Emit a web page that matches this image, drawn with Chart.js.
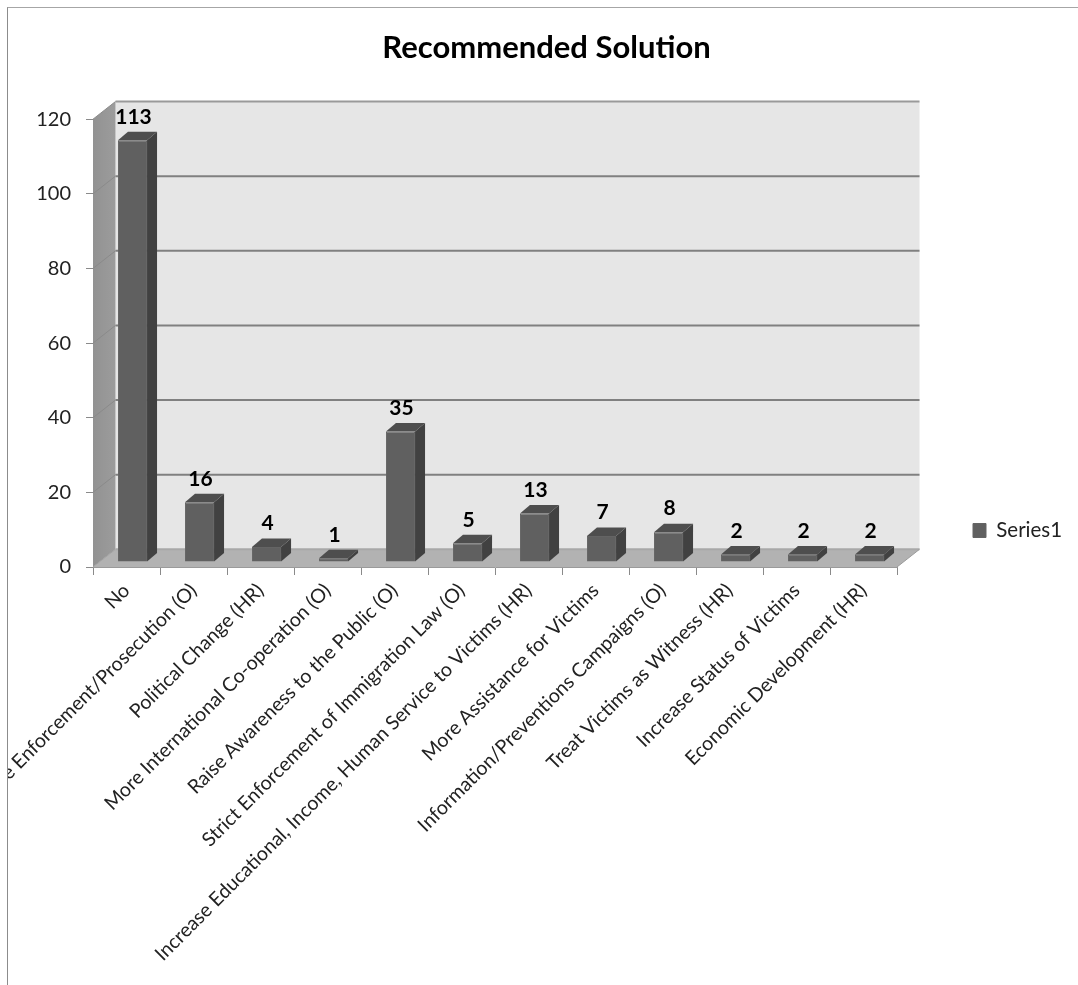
<!DOCTYPE html>
<html>
<head>
<meta charset="utf-8">
<style>
  html, body { margin: 0; padding: 0; background: #fff; overflow: hidden; }
  #frame { position: absolute; left: 7px; top: 7px; width: 1071px; height: 978px;
           border-left: 1px solid #8c8c8c; border-top: 1px solid #a6a6a6; }
  canvas { display: block; }
</style>
<script src="https://cdn.jsdelivr.net/npm/chart.js@4"></script>
</head>
<body>
<div id="frame"><canvas id="chart" width="1070" height="977"></canvas></div>
<script>
const categories = [
  "No",
  "More Enforcement/Prosecution (O)",
  "Political Change (HR)",
  "More International Co-operation (O)",
  "Raise Awareness to the Public (O)",
  "Strict Enforcement of Immigration Law (O)",
  "Increase Educational, Income, Human Service to Victims (HR)",
  "More Assistance for Victims",
  "Information/Preventions Campaigns (O)",
  "Treat Victims as Witness (HR)",
  "Increase Status of Victims",
  "Economic Development (HR)"
];
const series1 = [113, 16, 4, 1, 35, 5, 13, 7, 8, 2, 2, 2];
const yTicks = [0, 20, 40, 60, 80, 100, 120];

const FONT = "Lato, Carlito, sans-serif";
// Depth of the box behind the axes, and of each column.
const WALL_DX = 22.5, WALL_DY = 17.7;
const BAR_DX = 10, BAR_DY = 8.5;
const BAR_SHIFT_X = 6, BAR_SHIFT_Y = -5;

function poly(ctx, pts, fill) {
  ctx.beginPath();
  pts.forEach((p, i) => i ? ctx.lineTo(p[0], p[1]) : ctx.moveTo(p[0], p[1]));
  ctx.closePath();
  ctx.fillStyle = fill;
  ctx.fill();
}

const extrudedChart = {
  id: "extrudedChart",
  beforeLayout(chart) {
    // Reserve a fixed column for the legend on the right.
    const legend = chart.legend;
    if (legend && !legend._fixedFit) {
      const fit = legend.fit.bind(legend);
      legend.fit = function () { fit(); this.width = 181; };
      legend._fixedFit = true;
    }
  },
  afterLayout(chart) {
    chart.titleBlock.left = 7;
    const legend = chart.legend;
    legend.left = 955;
    legend.right = 1070;
    legend.top = 505;
    legend.bottom = 540;
  },
  beforeDatasetsDraw(chart) {
    const { ctx, scales: { x, y }, chartArea: a } = chart;
    const y0 = y.getPixelForValue(0), yMax = y.getPixelForValue(120);
    ctx.save();
    // Back wall, side wall, floor
    poly(ctx, [[a.left + WALL_DX, yMax - WALL_DY], [a.right + WALL_DX, yMax - WALL_DY],
               [a.right + WALL_DX, y0 - WALL_DY], [a.left + WALL_DX, y0 - WALL_DY]], "#e6e6e6");
    const wall = ctx.createLinearGradient(a.left, 0, a.left + WALL_DX, 0);
    wall.addColorStop(0, "#929292");
    wall.addColorStop(1, "#9c9c9c");
    poly(ctx, [[a.left, yMax], [a.left + WALL_DX, yMax - WALL_DY],
               [a.left + WALL_DX, y0 - WALL_DY], [a.left, y0]], wall);
    poly(ctx, [[a.left, y0], [a.left + WALL_DX, y0 - WALL_DY],
               [a.right + WALL_DX, y0 - WALL_DY], [a.right, y0]], "#b2b2b2");
    // Gridlines wrap from the side wall across the back wall
    yTicks.forEach(v => {
      const py = y.getPixelForValue(v);
      ctx.beginPath();
      ctx.moveTo(a.left, py);
      ctx.lineTo(a.left + WALL_DX, py - WALL_DY);
      ctx.strokeStyle = v === 0 ? "#a0a0a0" : "#8a8a8a";
      ctx.lineWidth = 1;
      ctx.stroke();
      ctx.beginPath();
      ctx.moveTo(a.left + WALL_DX, py - WALL_DY);
      ctx.lineTo(a.right + WALL_DX, py - WALL_DY);
      ctx.strokeStyle = v === 0 ? "#a8a8a8" : (v === 120 ? "#9a9a9a" : "#808080");
      ctx.lineWidth = 2;
      ctx.stroke();
    });
    ctx.beginPath();
    ctx.moveTo(a.right, y0);
    ctx.lineTo(a.right + WALL_DX, y0 - WALL_DY);
    ctx.strokeStyle = "#9a9a9a";
    ctx.lineWidth = 1;
    ctx.stroke();
    ctx.restore();
  },
  beforeDatasetDraw(chart) {
    const ctx = chart.ctx;
    chart.getDatasetMeta(0).data.forEach(bar => {
      const { x, y, base, width } = bar.getProps(["x", "y", "base", "width"], true);
      const l = x - width / 2 + BAR_SHIFT_X, r = x + width / 2 + BAR_SHIFT_X;
      const t = y + BAR_SHIFT_Y, b = base + BAR_SHIFT_Y;
      poly(ctx, [[r, t], [r + BAR_DX, t - BAR_DY], [r + BAR_DX, b - BAR_DY], [r, b]], "#414141");
      poly(ctx, [[l, t], [l + BAR_DX, t - BAR_DY], [r + BAR_DX, t - BAR_DY], [r, t]], "#4e4e4e");
    });
    ctx.save();
    ctx.translate(BAR_SHIFT_X, BAR_SHIFT_Y);
  },
  afterDatasetDraw(chart) {
    const ctx = chart.ctx;
    ctx.restore();
    ctx.save();
    ctx.font = "bold 21px " + FONT;
    ctx.fillStyle = "#000";
    ctx.textAlign = "center";
    ctx.textBaseline = "middle";
    chart.getDatasetMeta(0).data.forEach((bar, i) => {
      const { x, y } = bar.getProps(["x", "y"], true);
      ctx.fillText(String(series1[i]), x + BAR_SHIFT_X + 1, y + BAR_SHIFT_Y - BAR_DY - 15);
    });
    ctx.restore();
  }
};

new Chart(document.getElementById("chart"), {
  type: "bar",
  data: {
    labels: categories,
    datasets: [{
      label: "Series1",
      data: series1,
      backgroundColor: "#606060",
      borderColor: "#646464",
      borderWidth: 1,
      barPercentage: 0.434,
      categoryPercentage: 1,
      clip: false
    }]
  },
  plugins: [extrudedChart],
  options: {
    responsive: false,
    animation: false,
    layout: { autoPadding: false, padding: 0 },
    plugins: {
      title: {
        display: true,
        text: "Recommended Solution",
        color: "#000",
        font: { family: FONT, size: 31, weight: "bold", lineHeight: 1.2 },
        padding: { top: 21, bottom: 53 }
      },
      legend: {
        display: true,
        position: "right",
        align: "center",
        labels: {
          boxWidth: 13, boxHeight: 14, padding: 10,
          color: "#222",
          font: { family: FONT, size: 20.5 }
        }
      },
      tooltip: { enabled: false }
    },
    scales: {
      x: {
        afterFit(scale) { scale.height = 418; },
        grid: { drawOnChartArea: false, drawTicks: true, tickLength: 8, color: "#8a8a8a" },
        border: { color: "#9a9a9a" },
        ticks: {
          autoSkip: false, minRotation: 45, maxRotation: 45, padding: 4,
          color: "#222", font: { family: FONT, size: 19.6 }
        }
      },
      y: {
        min: 0, max: 120,
        afterFit(scale) { scale.width = 85; },
        afterBuildTicks(scale) { scale.ticks = yTicks.map(value => ({ value })); },
        grid: { drawOnChartArea: false, drawTicks: true, tickLength: 7, color: "#8a8a8a" },
        border: { color: "#9a9a9a" },
        ticks: { padding: 15, color: "#222", font: { family: FONT, size: 20 } }
      }
    }
  }
});
</script>
</body>
</html>
